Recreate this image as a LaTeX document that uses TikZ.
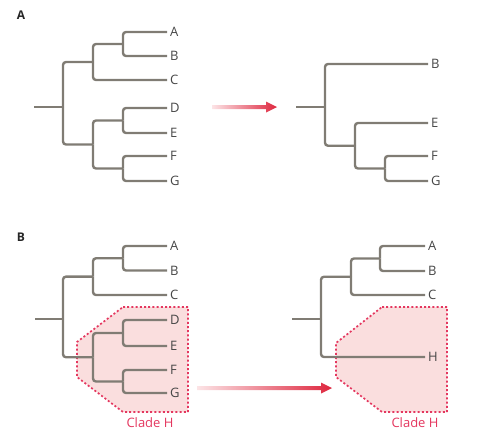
\documentclass[tikz,border=0pt]{standalone}
\usepackage{fontspec}
\setmainfont{Open Sans}

\definecolor{astgrau}{RGB}{128,124,116}
\definecolor{textgrau}{RGB}{70,70,70}
\definecolor{kladerot}{RGB}{228,55,95}
\definecolor{kladefuell}{RGB}{250,222,222}
\definecolor{pfeilrot}{RGB}{222,38,62}
\definecolor{pfeilhell}{RGB}{252,228,230}

\begin{document}
\begin{tikzpicture}
		[
		x=1pt, y=-1pt, font=\fontsize{13}{15}\selectfont, >=latex,
		%Voreinstellungen für Äste und Beschriftungen
		ast/.style={astgrau, line width=2.4pt, rounded corners=3pt},
		blatt/.style={anchor=west, inner xsep=3pt, inner ysep=1pt, text=textgrau},
		klade/.style={fill=kladefuell, draw=kladerot, line width=1.7pt, dash pattern=on 2pt off 2.2pt},
		kladetext/.style={text=kladerot},
		teil/.style={font=\fontsize{12}{14}\selectfont\bfseries, text=black!85}
		]
		
		\useasboundingbox (0,0) rectangle (485,440);
		
		%Teil A
		\node[teil] (tA) at (21,15) {A};
		
		%Baum links
		\node[blatt] (A1) at (167,32) {A};
		\node[blatt] (B1) at (167,56) {B};
		\node[blatt] (C1) at (167,80) {C};
		\node[blatt] (D1) at (167,108) {D};
		\node[blatt] (E1) at (167,133) {E};
		\node[blatt] (F1) at (167,156) {F};
		\node[blatt] (G1) at (167,181) {G};
		\coordinate (ab1) at (123,44);
		\coordinate (abc1) at (93,62);
		\coordinate (de1) at (123,120.5);
		\coordinate (fg1) at (123,168.5);
		\coordinate (defg1) at (93,144.5);
		\coordinate (w1) at (63,107);
		\coordinate (s1) at (34,107);
		\draw[ast] (ab1) |- (A1.west);
		\draw[ast] (ab1) |- (B1.west);
		\draw[ast] (abc1) |- (ab1);
		\draw[ast] (abc1) |- (C1.west);
		\draw[ast] (de1) |- (D1.west);
		\draw[ast] (de1) |- (E1.west);
		\draw[ast] (fg1) |- (F1.west);
		\draw[ast] (fg1) |- (G1.west);
		\draw[ast] (defg1) |- (de1);
		\draw[ast] (defg1) |- (fg1);
		\draw[ast] (w1) |- (abc1);
		\draw[ast] (w1) |- (defg1);
		\draw[ast] (s1) -- (w1);
		
		%Pfeil A
		\coordinate (pA1) at (212,107);
		\coordinate (pA2) at (277,107);
		\shade[left color=pfeilhell, right color=pfeilrot] (pA1) ++(0,2) -- ++(54,0) -- ++(0,3.5) -- (pA2) -- ++(-11,-5.5) -- ++(0,3.5) -- ++(-54,0) -- cycle;
		
		%Baum rechts
		\node[blatt] (B2) at (428,64) {B};
		\node[blatt] (E2) at (428,123) {E};
		\node[blatt] (F2) at (428,156) {F};
		\node[blatt] (G2) at (428,181) {G};
		\coordinate (fg2) at (385,168.5);
		\coordinate (efg2) at (355,145.75);
		\coordinate (w2) at (325,107);
		\coordinate (s2) at (296,107);
		\draw[ast] (fg2) |- (F2.west);
		\draw[ast] (fg2) |- (G2.west);
		\draw[ast] (efg2) |- (E2.west);
		\draw[ast] (efg2) |- (fg2);
		\draw[ast] (w2) |- (B2.west);
		\draw[ast] (w2) |- (efg2);
		\draw[ast] (s2) -- (w2);
		
		%Teil B
		\node[teil] (tB) at (21,237) {B};
		
		%Klade H links
		\draw[klade] (123,307) -- (188,307) -- (188,412) -- (123,412) -- (77,377) -- (77,342) -- cycle;
		\node[kladetext] (kH1) at (150,423) {Clade H};
		
		%Baum links
		\node[blatt] (A3) at (167,246) {A};
		\node[blatt] (B3) at (167,270.5) {B};
		\node[blatt] (C3) at (167,295) {C};
		\node[blatt] (D3) at (167,320) {D};
		\node[blatt] (E3) at (167,346) {E};
		\node[blatt] (F3) at (167,370) {F};
		\node[blatt] (G3) at (167,393) {G};
		\coordinate (ab3) at (123,258.25);
		\coordinate (abc3) at (93,276.6);
		\coordinate (de3) at (123,333);
		\coordinate (fg3) at (123,381.5);
		\coordinate (defg3) at (93,357.25);
		\coordinate (w3) at (63,319);
		\coordinate (s3) at (35,319);
		\draw[ast] (ab3) |- (A3.west);
		\draw[ast] (ab3) |- (B3.west);
		\draw[ast] (abc3) |- (ab3);
		\draw[ast] (abc3) |- (C3.west);
		\draw[ast] (de3) |- (D3.west);
		\draw[ast] (de3) |- (E3.west);
		\draw[ast] (fg3) |- (F3.west);
		\draw[ast] (fg3) |- (G3.west);
		\draw[ast] (defg3) |- (de3);
		\draw[ast] (defg3) |- (fg3);
		\draw[ast] (w3) |- (abc3);
		\draw[ast] (w3) |- (defg3);
		\draw[ast] (s3) -- (w3);
		
		%Pfeil B
		\coordinate (pB1) at (197,388);
		\coordinate (pB2) at (332,388);
		\shade[left color=pfeilhell, right color=pfeilrot] (pB1) ++(0,2) -- ++(124,0) -- ++(0,3.5) -- (pB2) -- ++(-11,-5.5) -- ++(0,3.5) -- ++(-124,0) -- cycle;
		
		%Klade H rechts
		\draw[klade] (382,307) -- (447,307) -- (447,412) -- (382,412) -- (336,377) -- (336,343) -- cycle;
		\node[kladetext] (kH4) at (415,423) {Clade H};
		
		%Baum rechts
		\node[blatt] (A4) at (425,246) {A};
		\node[blatt] (B4) at (425,271) {B};
		\node[blatt] (C4) at (425,295) {C};
		\node[blatt] (H4) at (425,357) {H};
		\coordinate (ab4) at (380,258.5);
		\coordinate (abc4) at (351,276.75);
		\coordinate (w4) at (321,319);
		\coordinate (s4) at (292,319);
		\draw[ast] (ab4) |- (A4.west);
		\draw[ast] (ab4) |- (B4.west);
		\draw[ast] (abc4) |- (ab4);
		\draw[ast] (abc4) |- (C4.west);
		\draw[ast] (w4) |- (abc4);
		\draw[ast] (w4) |- (H4.west);
		\draw[ast] (s4) -- (w4);
		
	\end{tikzpicture}
\end{document}
